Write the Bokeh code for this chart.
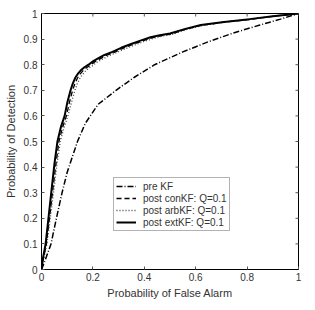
import math

from bokeh.plotting import figure
from bokeh.models import Range1d, LinearAxis, FixedTicker, Legend, LegendItem, Label
from bokeh.embed import file_html
from bokeh.resources import INLINE

# ROC curves: probability of false alarm (x) vs probability of detection (y)
pre_x = [0, 0.012, 0.037, 0.058, 0.08, 0.10, 0.12, 0.14, 0.17, 0.22, 0.29,
         0.36, 0.44, 0.55, 0.65, 0.75, 0.85, 0.93, 1.0]
pre_y = [0, 0.03, 0.10, 0.20, 0.30, 0.38, 0.44, 0.50, 0.57, 0.645, 0.70,
         0.75, 0.80, 0.85, 0.89, 0.925, 0.955, 0.978, 1.0]

ext_x = [0, 0.005, 0.016, 0.027, 0.039, 0.05, 0.062, 0.075, 0.09, 0.10, 0.113,
         0.122, 0.132, 0.142, 0.152, 0.167, 0.183, 0.20, 0.22, 0.245, 0.276,
         0.31, 0.346, 0.385, 0.424, 0.46, 0.50, 0.56, 0.62, 0.71, 0.81, 0.90, 1.0]
ext_y = [0, 0.04, 0.10, 0.20, 0.31, 0.41, 0.50, 0.555, 0.60, 0.65, 0.70,
         0.727, 0.75, 0.765, 0.777, 0.79, 0.80, 0.813, 0.825, 0.838, 0.85,
         0.866, 0.88, 0.894, 0.907, 0.915, 0.922, 0.94, 0.955, 0.967, 0.978, 0.989, 1.0]

con_x = [0, 0.007, 0.019, 0.031, 0.044, 0.056, 0.068, 0.082, 0.097, 0.108, 0.121,
         0.13, 0.14, 0.15, 0.16, 0.175, 0.19, 0.207, 0.228, 0.252, 0.283,
         0.317, 0.352, 0.39, 0.43, 0.465, 0.505, 0.563, 0.622, 0.71, 0.81, 0.90, 1.0]
con_y = [0, 0.04, 0.10, 0.20, 0.31, 0.41, 0.50, 0.555, 0.60, 0.65, 0.70,
         0.726, 0.748, 0.763, 0.775, 0.788, 0.798, 0.811, 0.823, 0.836, 0.848,
         0.864, 0.878, 0.892, 0.905, 0.913, 0.92, 0.939, 0.954, 0.966, 0.977, 0.989, 1.0]

arb_x = [0, 0.008, 0.021, 0.034, 0.048, 0.06, 0.073, 0.088, 0.103, 0.116, 0.13,
         0.139, 0.149, 0.159, 0.169, 0.184, 0.20, 0.216, 0.238, 0.262, 0.292,
         0.325, 0.36, 0.397, 0.435, 0.47, 0.51, 0.567, 0.625, 0.71, 0.81, 0.90, 1.0]
arb_y = [0, 0.04, 0.10, 0.20, 0.31, 0.41, 0.50, 0.555, 0.60, 0.65, 0.70,
         0.725, 0.746, 0.761, 0.773, 0.786, 0.797, 0.81, 0.822, 0.835, 0.847,
         0.862, 0.876, 0.89, 0.903, 0.912, 0.919, 0.938, 0.953, 0.966, 0.977, 0.989, 1.0]

x_ticks = [0, 0.2, 0.4, 0.6, 0.8, 1.0]
y_ticks = [0, 0.1, 0.2, 0.3, 0.4, 0.5, 0.6, 0.7, 0.8, 0.9, 1.0]
x_tick_labels = ["0", "0.2", "0.4", "0.6", "0.8", "1"]
y_tick_labels = ["0", "0.1", "0.2", "0.3", "0.4", "0.5", "0.6", "0.7", "0.8", "0.9", "1"]

legend_labels = ["pre KF", "post conKF: Q=0.1", "post arbKF: Q=0.1", "post extKF: Q=0.1"]

FONT = "Liberation Sans"
TEXT = "#333333"
TICK = "#555555"

p = figure(width=315, height=310, output_backend="svg", toolbar_location=None,
           x_range=Range1d(0, 1), y_range=Range1d(0, 1),
           min_border_left=41, min_border_right=17, min_border_top=13,
           min_border_bottom=41, x_axis_type=None, y_axis_type=None)
p.outline_line_color = "black"
p.outline_line_width = 1
p.background_fill_color = "white"
p.border_fill_color = "white"
p.grid.visible = False


def style_axis(ax, ticks, labels):
    ax.ticker = FixedTicker(ticks=ticks)
    ax.major_label_overrides = {t: l for t, l in zip(ticks, labels)}
    ax.major_tick_in = 3
    ax.major_tick_out = 0
    ax.minor_tick_line_color = None
    ax.major_tick_line_color = TICK
    ax.axis_line_color = "black"
    ax.major_label_text_font = FONT
    ax.major_label_text_color = TEXT
    ax.major_label_text_font_size = "10px"
    ax.axis_label_text_font = FONT
    ax.axis_label_text_font_style = "normal"
    ax.axis_label_text_color = TEXT
    ax.axis_label_text_font_size = "11px"


xb = LinearAxis(axis_label="Probability of False Alarm")
style_axis(xb, x_ticks, x_tick_labels)
xb.major_label_standoff = 3
xb.axis_label_standoff = 3
p.add_layout(xb, "below")

yl = LinearAxis(axis_label="Probability of Detection")
style_axis(yl, y_ticks, y_tick_labels)
yl.major_label_standoff = 4
yl.axis_label_standoff = 4
p.add_layout(yl, "left")

# mirrored inward ticks on the top and right edges (half of each dash is clipped by the frame)
p.scatter(x=x_ticks, y=[1.0] * len(x_ticks), marker="dash", size=6,
          angle=math.pi / 2, line_color=TICK, line_width=1)
p.scatter(x=[1.0] * len(y_ticks), y=y_ticks, marker="dash", size=6,
          line_color=TICK, line_width=1)

r_pre = p.line(pre_x, pre_y, line_color="black", line_width=1.5, line_dash="6 2 1 2")
r_con = p.line(con_x, con_y, line_color="black", line_width=1.3, line_dash="5 3")
r_arb = p.line(arb_x, arb_y, line_color="#444444", line_width=1.3, line_dash="1 2")
r_ext = p.line(ext_x, ext_y, line_color="black", line_width=2)

legend = Legend(items=[LegendItem(label=lab, renderers=[r])
                       for lab, r in zip(legend_labels, [r_pre, r_con, r_arb, r_ext])],
                location=(72, 38))
legend.label_text_font = FONT
legend.label_text_font_size = "10px"
legend.label_text_color = TEXT
legend.label_height = 12
legend.glyph_height = 12
legend.glyph_width = 20
legend.label_standoff = 7
legend.spacing = 0
legend.padding = 2
legend.margin = 0
legend.border_line_color = "#666666"
legend.border_line_width = 1
legend.background_fill_color = "white"
legend.background_fill_alpha = 1
p.add_layout(legend, "center")

p.add_layout(Label(x=265, y=-34, x_units="screen", y_units="screen", text=".",
                   text_font=FONT, text_font_size="11px", text_color=TEXT))

open("out.html", "w").write(file_html(p, INLINE))
